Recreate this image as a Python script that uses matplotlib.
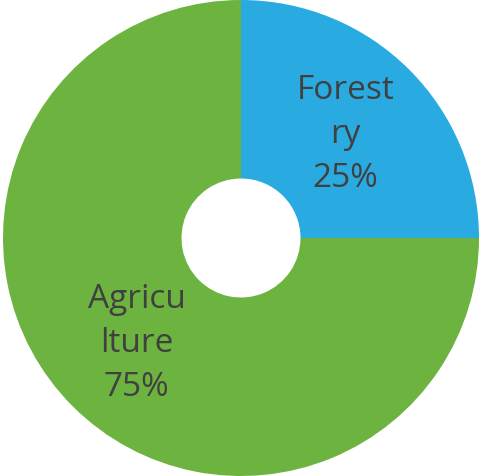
import matplotlib.pyplot as plt

labels = ["Forest\nry", "Agricu\nlture"]
values = [25, 75]
colors = ["#29abe2", "#6db33f"]

fig = plt.figure(figsize=(4.79, 4.77), dpi=100)
ax = fig.add_axes([0, 0, 1, 1])

wedges, texts = ax.pie(values, colors=colors, startangle=90, counterclock=False,
                       radius=1, labels=[f"{l}\n{v}%" for l, v in zip(labels, values)],
                       labeldistance=0.62,
                       wedgeprops=dict(width=0.75, linewidth=0),
                       textprops=dict(fontsize=24, color="#404040", family="Open Sans",
                                      ha="center", va="center", linespacing=1.45))

ax.set_xlim(-241 / 238, 238 / 238)
ax.set_ylim(-238 / 238, 239 / 238)
ax.set_aspect("equal")
ax.axis("off")

fig.savefig("out.png", dpi=100)
